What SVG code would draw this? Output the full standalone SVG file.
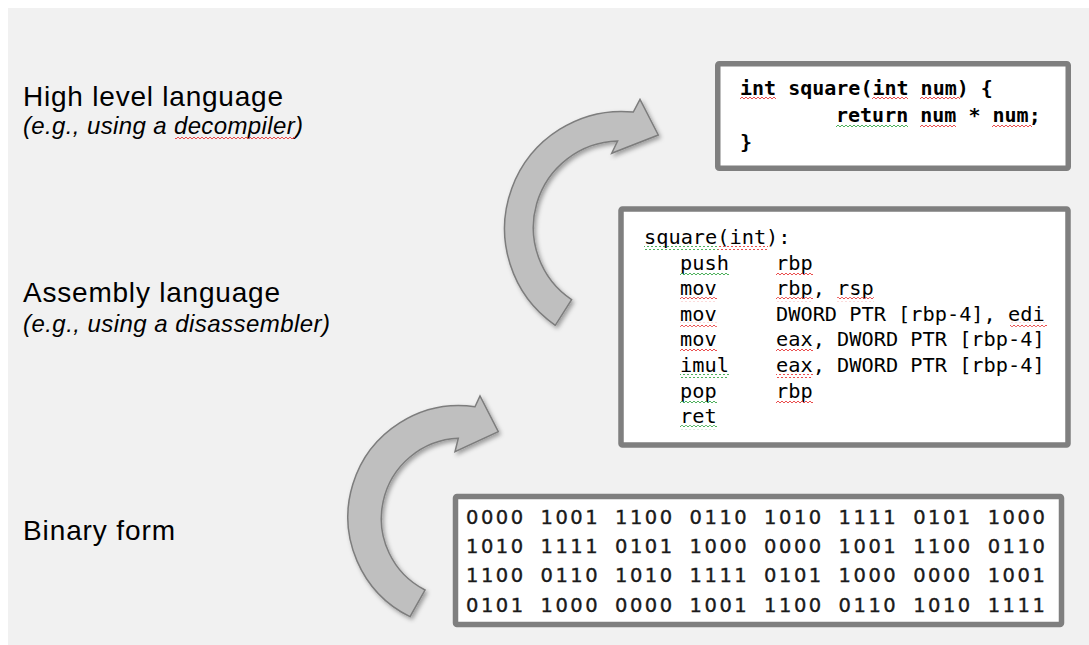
<svg xmlns="http://www.w3.org/2000/svg" width="1089" height="645" viewBox="0 0 1089 645">
  <style>
    .lbl { font-family: "Liberation Sans", Arial, sans-serif; font-size: 28px; fill: #000; }
    .sub { font-family: "Liberation Sans", Arial, sans-serif; font-size: 24px; font-style: italic; fill: #000; }
    .box { fill: #fff; stroke: #7f7f7f; stroke-width: 5.5; }
    .hl { font-family: "DejaVu Sans Mono", "Liberation Mono", monospace; font-size: 20px; font-weight: bold; fill: #000; }
    .asm { font-family: "DejaVu Sans Mono", "Liberation Mono", monospace; font-size: 20.3px; fill: #000; }
    .bin { font-family: "DejaVu Sans", "Liberation Sans", sans-serif; font-size: 19.5px; letter-spacing: 2.5px; word-spacing: 6.2px; fill: #1a1a1a; stroke: #1a1a1a; stroke-width: 0.35; }
    .arrow { fill: #bfbfbf; stroke: #7d7d7d; stroke-width: 1.5; stroke-linejoin: miter; filter: url(#shadow); }
    .sqr { fill: url(#zigR); }
    .sqg { fill: url(#zigG); }
  </style>
  <defs>
    <filter id="shadow" x="-20%" y="-20%" width="140%" height="140%">
      <feDropShadow dx="2" dy="2.5" stdDeviation="2.2" flood-color="#000" flood-opacity="0.35"/>
    </filter>
    <pattern id="zigR" patternUnits="userSpaceOnUse" x="0" y="0" width="4" height="4">
      <path d="M0 3 L2 1 L4 3" fill="none" stroke="#e83a3a" stroke-width="0.9"/>
    </pattern>
    <pattern id="zigG" patternUnits="userSpaceOnUse" x="0" y="0" width="4" height="4">
      <path d="M0 3 L2 1 L4 3" fill="none" stroke="#3aa84a" stroke-width="0.9"/>
    </pattern>
  </defs>

  <rect x="8" y="8" width="1081" height="637" fill="#f1f1f1"/>

  <g id="label-high">
    <text class="lbl" x="23" y="106" textLength="260" lengthAdjust="spacing">High level language</text>
    <text class="sub" x="23" y="134" textLength="280" lengthAdjust="spacing">(e.g., using a decompiler)</text>
    <rect class="sqr" x="175" y="136" width="120" height="4"/>
  </g>
  <g id="label-asm">
    <text class="lbl" x="23" y="302" textLength="257" lengthAdjust="spacing">Assembly language</text>
    <text class="sub" x="23" y="332" textLength="307" lengthAdjust="spacing">(e.g., using a disassembler)</text>
  </g>
  <g id="label-bin">
    <text class="lbl" x="23" y="540" textLength="152" lengthAdjust="spacing">Binary form</text>
  </g>

  <g id="connectors">
    <path class="arrow" d="M555.3 325.3 A117.3 117.3 0 0 1 633.3 112 L640 99.3 L658.3 135 L611.7 153.3 L617.6 141 A86.7 86.7 0 0 0 571.6 299.6 Z"/>
    <path class="arrow" d="M410 616.7 A111.3 111.3 0 0 1 475 406.7 L480 396 L498.3 431.7 L455 451.7 L458.3 438.3 A80.3 80.3 0 0 0 425 590 Z"/>
  </g>

  <g id="node-high">
    <rect class="box" x="717.75" y="63.75" width="350.5" height="104.5" rx="1.5"/>
    <text class="hl" x="740" y="95">int square(int num) {</text>
    <text class="hl" x="836" y="122">return num * num;</text>
    <text class="hl" x="740" y="149">}</text>
    <rect class="sqr" x="740" y="97" width="36" height="4"/>
    <rect class="sqr" x="872" y="97" width="36" height="4"/>
    <rect class="sqr" x="920" y="97" width="40" height="4"/>
    <rect class="sqg" x="836" y="124" width="72" height="4"/>
    <rect class="sqr" x="920" y="124" width="36" height="4"/>
    <rect class="sqr" x="992" y="124" width="40" height="4"/>
  </g>

  <g id="node-asm">
    <rect class="box" x="621" y="209" width="447" height="236" rx="1.5"/>
    <text class="asm" x="644" y="244">square(int):</text>
    <text class="asm" x="680" y="269.6">push</text>
    <text class="asm" x="776" y="269.6">rbp</text>
    <text class="asm" x="680" y="295.2">mov</text>
    <text class="asm" x="776" y="295.2">rbp, rsp</text>
    <text class="asm" x="680" y="320.8">mov</text>
    <text class="asm" x="776" y="320.8">DWORD PTR [rbp-4], edi</text>
    <text class="asm" x="680" y="346.4">mov</text>
    <text class="asm" x="776" y="346.4">eax, DWORD PTR [rbp-4]</text>
    <text class="asm" x="680" y="372">imul</text>
    <text class="asm" x="776" y="372">eax, DWORD PTR [rbp-4]</text>
    <text class="asm" x="680" y="397.6">pop</text>
    <text class="asm" x="776" y="397.6">rbp</text>
    <text class="asm" x="680" y="423.2">ret</text>
    <rect class="sqg" x="644" y="246" width="74" height="4"/>
    <rect class="sqr" x="718" y="246" width="50" height="4"/>
    <rect class="sqg" x="680" y="271.6" width="49" height="4"/>
    <rect class="sqr" x="776" y="271.6" width="37" height="4"/>
    <rect class="sqr" x="680" y="297.2" width="37" height="4"/>
    <rect class="sqr" x="776" y="297.2" width="37" height="4"/>
    <rect class="sqr" x="837" y="297.2" width="37" height="4"/>
    <rect class="sqr" x="680" y="322.8" width="37" height="4"/>
    <rect class="sqr" x="1010" y="322.8" width="37" height="4"/>
    <rect class="sqr" x="680" y="348.4" width="37" height="4"/>
    <rect class="sqr" x="776" y="348.4" width="37" height="4"/>
    <rect class="sqg" x="680" y="374" width="49" height="4"/>
    <rect class="sqr" x="776" y="374" width="37" height="4"/>
    <rect class="sqg" x="680" y="399.6" width="37" height="4"/>
    <rect class="sqr" x="776" y="399.6" width="37" height="4"/>
    <rect class="sqg" x="680" y="425.2" width="37" height="4"/>
  </g>

  <g id="node-bin">
    <rect class="box" x="455.5" y="496.5" width="606" height="128" rx="1.5"/>
    <text class="bin" x="466" y="524">0000 1001 1100 0110 1010 1111 0101 1000</text>
    <text class="bin" x="466" y="553">1010 1111 0101 1000 0000 1001 1100 0110</text>
    <text class="bin" x="466" y="582">1100 0110 1010 1111 0101 1000 0000 1001</text>
    <text class="bin" x="466" y="612">0101 1000 0000 1001 1100 0110 1010 1111</text>
  </g>
</svg>
